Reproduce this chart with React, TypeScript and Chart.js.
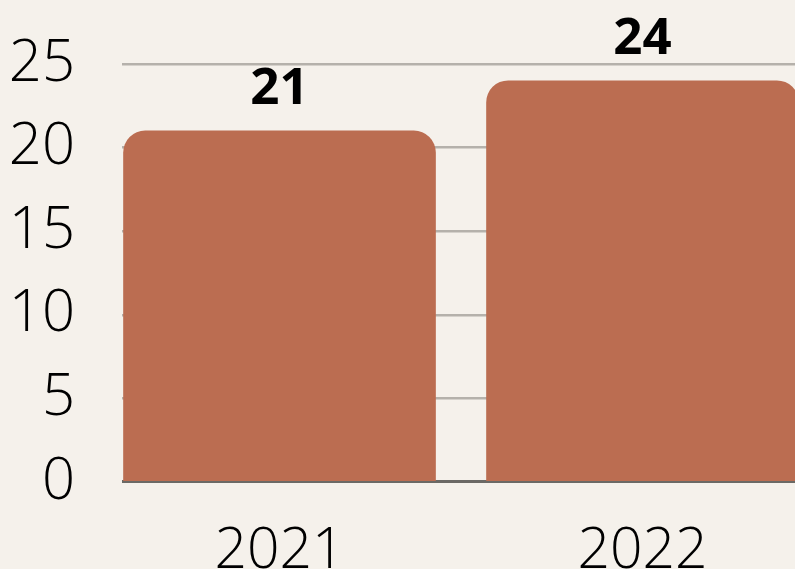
import React, { useEffect, useRef } from "react";
import { Chart, registerables } from "chart.js";

Chart.register(...registerables);

const years = ["2021", "2022"];
const values = [21, 24];
const yTicks = [0, 5, 10, 15, 20, 25];

const BG = "#f5f1eb";
const BAR = "#bb6d51";

const labelPlugin = {
  id: "valueLabels",
  afterDatasetsDraw(chart: any) {
    const ctx = chart.ctx;
    const meta = chart.getDatasetMeta(0);
    ctx.save();
    ctx.font = "700 51px 'Open Sans'";
    ctx.fillStyle = "#000";
    ctx.textAlign = "center";
    ctx.textBaseline = "alphabetic";
    meta.data.forEach((el: any, i: number) => {
      ctx.fillText(String(values[i]), el.x, el.y - 27);
    });
    ctx.restore();
  },
};

export default function App() {
  const ref = useRef<HTMLCanvasElement>(null);
  useEffect(() => {
    document.body.style.margin = "0";
    document.body.style.background = BG;
    document.body.style.overflow = "hidden";
    const chart = new Chart(ref.current!, {
      type: "bar",
      data: {
        datasets: [
          {
            data: values.map((v, i) => ({ x: i, y: v })),
            backgroundColor: BAR,
            borderRadius: 22,
            borderSkipped: "start",
            barThickness: 312,
          },
        ],
      },
      options: {
        responsive: false,
        animation: false,
        events: [],
        layout: { padding: { top: 64, left: 0, right: 0, bottom: 0 } },
        plugins: { legend: { display: false }, tooltip: { enabled: false }, title: { display: false } },
        scales: {
          x: {
            type: "linear",
            offset: false,
            bounds: "data",
            min: -0.4339,
            max: 1.544,
            grid: { display: false, drawTicks: false },
            border: { display: false },
            afterBuildTicks: (scale: any) => {
              scale.ticks = years.map((_, i) => ({ value: i }));
            },
            afterFit: (scale: any) => {
              scale.height = 87;
              scale.paddingLeft = 0;
              scale.paddingRight = 0;
            },
            ticks: {
              callback: (v: any) => years[v] ?? "",
              color: "#000",
              font: { family: "'Open Sans'", size: 57, weight: "300" },
              padding: 36,
              maxRotation: 0,
              autoSkip: false,
            },
          },
          y: {
            min: 0,
            max: 25,
            afterBuildTicks: (scale: any) => {
              scale.ticks = yTicks.map((v) => ({ value: v }));
            },
            afterFit: (scale: any) => {
              scale.width = 122;
              scale.paddingTop = 0;
              scale.paddingBottom = 0;
            },
            grid: {
              color: (c: any) => (c.tick && c.tick.value === 0 ? "rgba(0,0,0,0)" : "#b5b1ab"),
              lineWidth: 2.5,
              drawTicks: false,
            },
            border: { display: false },
            ticks: {
              color: "#000",
              font: { family: "'Open Sans'", size: 58, weight: "300" },
              padding: 47,
            },
          },
        },
      },
      plugins: [
        {
          id: "baseline",
          beforeDatasetsDraw(chart: any) {
            const { ctx, chartArea, scales } = chart;
            const y = scales.y.getPixelForValue(0);
            ctx.save();
            ctx.strokeStyle = "#6b6965";
            ctx.lineWidth = 3;
            ctx.beginPath();
            ctx.moveTo(chartArea.left, y - 0.5);
            ctx.lineTo(chartArea.right, y - 0.5);
            ctx.stroke();
            ctx.restore();
          },
        },
        labelPlugin,
      ],
    });
    return () => chart.destroy();
  }, []);
  return (
    <div
      style={{
        position: "fixed",
        left: 0,
        top: 0,
        width: 795,
        height: 569,
        overflow: "hidden",
        background: BG,
      }}
    >
      <canvas ref={ref} width={840} height={569} style={{ display: "block" }} />
    </div>
  );
}
